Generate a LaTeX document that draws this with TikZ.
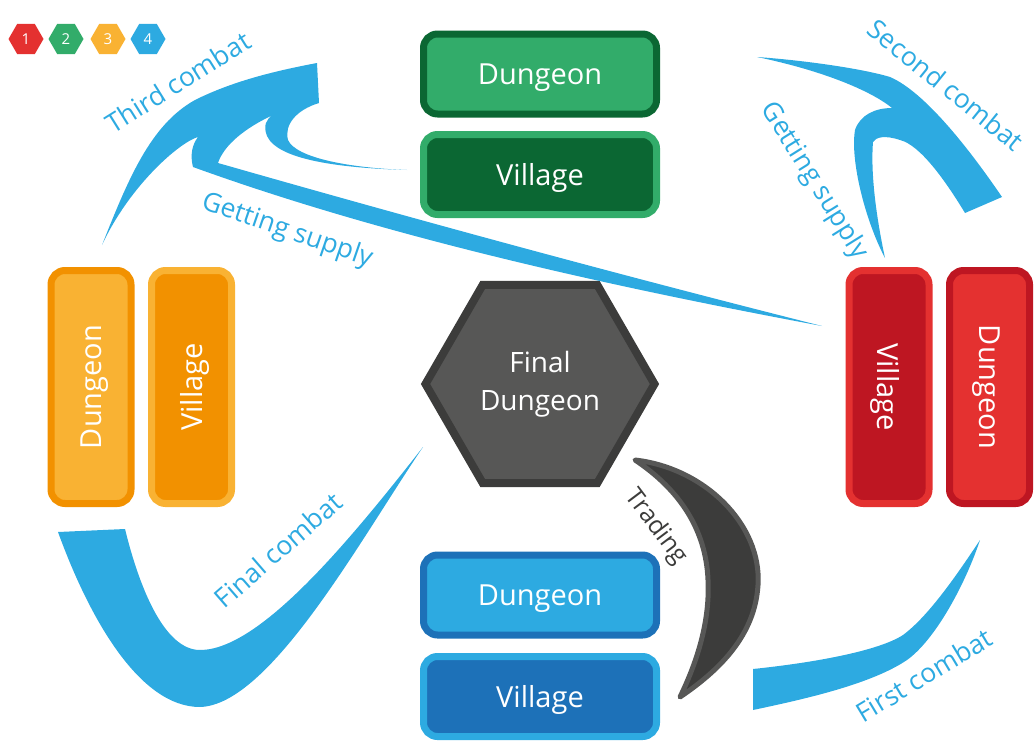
\documentclass[tikz,border=0pt]{standalone}
\usepackage{fontspec}
\setmainfont{Open Sans}
\usetikzlibrary{shapes.geometric}

\definecolor{skyblue}{HTML}{2DAAE1}
\definecolor{deepblue}{HTML}{1D71B8}
\definecolor{leafgreen}{HTML}{32AC6A}
\definecolor{forestgreen}{HTML}{0B6733}
\definecolor{sunorange}{HTML}{F9B233}
\definecolor{burntorange}{HTML}{F29100}
\definecolor{brightred}{HTML}{E43130}
\definecolor{winered}{HTML}{BE1622}
\definecolor{stonegrey}{HTML}{575756}
\definecolor{coalgrey}{HTML}{3C3C3B}

\def\w{233pt}
\def\h{80pt}
\def\tile#1#2#3#4{\node[tilebox, #3] (#1) at (#2) {#4};}

\begin{document}
\begin{tikzpicture}[x=1pt, y=-1pt,
    tilebox/.style={rectangle, rounded corners=14pt, line width=7pt,
        minimum width=\w, minimum height=\h, inner sep=0, text depth=0pt,
        text=white, font=\fontsize{29}{32}\selectfont},
    legendhex/.style={regular polygon, regular polygon sides=6,
        minimum size=35pt, inner sep=0, text=white,
        font=\fontsize{15}{16}\selectfont},
    lbl/.style={text=skyblue, inner sep=0, font=\fontsize{26.5}{30}\selectfont},
    flow/.style={fill=skyblue}]
    \useasboundingbox (0,0) rectangle (1035,744);

    % legend
    \node[legendhex, fill=brightred] (lg1) at (26,39) {1};
    \node[legendhex, fill=leafgreen] (lg2) at (66,39) {2};
    \node[legendhex, fill=sunorange] (lg3) at (108,39) {3};
    \node[legendhex, fill=skyblue] (lg4) at (148,39) {4};

    % the four towns
    \tile{gdun}{540,74}{draw=forestgreen, fill=leafgreen}{Dungeon}
    \tile{gvil}{540,174.5}{draw=leafgreen, fill=forestgreen}{Village}
    \tile{bdun}{540,595}{draw=deepblue, fill=skyblue}{Dungeon}
    \tile{bvil}{540,696.5}{draw=skyblue, fill=deepblue}{Village}
    \tile{odun}{91,387}{rotate=90, draw=burntorange, fill=sunorange}{Dungeon}
    \tile{ovil}{191.5,387}{rotate=90, draw=sunorange, fill=burntorange}{Village}
    \tile{rvil}{889,387}{rotate=-90, draw=brightred, fill=winered}{Village}
    \tile{rdun}{989.5,387}{rotate=-90, draw=winered, fill=brightred}{Dungeon}

    \node[regular polygon, regular polygon sides=6, minimum size=229pt,
        inner sep=0, line width=8pt, draw=coalgrey, fill=stonegrey,
        text=white, align=center, font=\fontsize{28}{38}\selectfont]
        (final) at (540,384) {Final\\Dungeon};

    % third combat and getting supply
    \fill[flow] (102,245)
        .. controls (128,180) and (150,125) .. (195,100)
        .. controls (235,80) and (280,70) .. (317,63)
        -- (319,103)
        .. controls (296,110) and (284,125) .. (288,140)
        .. controls (296,158) and (350,168) .. (407,170)
        .. controls (340,168) and (278,160) .. (267,136)
        .. controls (263,126) and (266,119) .. (273,115)
        .. controls (245,128) and (224,145) .. (218,163)
        .. controls (400,215) and (600,270) .. (822,326)
        .. controls (640,292) and (400,242) .. (193,167)
        .. controls (190,155) and (192,145) .. (198,137)
        .. controls (180,142) and (130,185) .. (102,245) -- cycle;
    % second combat and getting supply
    \fill[flow] (757,57)
        .. controls (800,60) and (860,68) .. (890,77)
        .. controls (925,92) and (970,150) .. (1002,197)
        -- (965,213)
        .. controls (945,180) and (920,145) .. (900,140)
        .. controls (885,135) and (876,137) .. (873,142)
        .. controls (870,180) and (879,230) .. (885,258)
        .. controls (865,220) and (850,160) .. (855,130)
        .. controls (860,115) and (875,108) .. (892,108)
        .. controls (870,90) and (820,70) .. (757,57) -- cycle;
    % final combat
    \fill[flow] (58,532) -- (125,529)
        .. controls (140,590) and (165,650) .. (200,650)
        .. controls (260,650) and (350,540) .. (423,447)
        .. controls (360,540) and (270,705) .. (200,707)
        .. controls (140,707) and (90,620) .. (58,532) -- cycle;
    % first combat
    \fill[flow] (753,669)
        .. controls (820,662) and (880,650) .. (903,635)
        .. controls (930,615) and (960,570) .. (980,540)
        .. controls (965,585) and (935,640) .. (907,660)
        .. controls (870,685) and (800,700) .. (753,710) -- cycle;
    % trading
    \filldraw[fill=coalgrey, draw=stonegrey, line width=5pt, line join=round]
        (635,460)
        .. controls (705,468) and (762,525) .. (758,585)
        .. controls (755,635) and (720,670) .. (680,697)
        .. controls (698,660) and (710,620) .. (708,580)
        .. controls (706,530) and (680,490) .. (635,460) -- cycle;

    \node[lbl, rotate=32] (l3) at (178,82) {Third combat};
    \node[lbl, rotate=-19] (s3) at (287,231) {Getting supply};
    \node[lbl, rotate=-39] (l2) at (946,85) {Second combat};
    \node[lbl, rotate=-58] (s2) at (814,181) {Getting supply};
    \node[lbl, rotate=41] (l4) at (278,550) {Final combat};
    \node[lbl, rotate=31] (l1) at (924,675) {First combat};
    \node[inner sep=0, rotate=-53, text=coalgrey,
        font=\fontsize{25}{28}\selectfont] (trade) at (656,527) {Trading};
\end{tikzpicture}
\end{document}
